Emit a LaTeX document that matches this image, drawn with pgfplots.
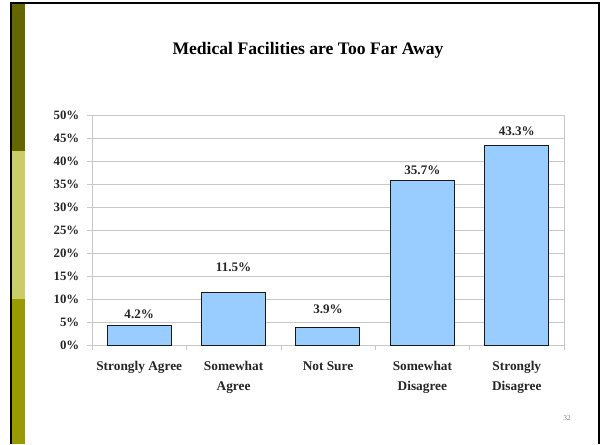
\documentclass[border=0pt]{standalone}
\usepackage{pgfplots}
\pgfplotsset{compat=1.18}
\usepackage{pgfplotstable}
\usepackage{fontspec}
\setmainfont{Liberation Serif}
\definecolor{oliveA}{HTML}{666600}
\definecolor{oliveB}{HTML}{CCCC66}
\definecolor{oliveC}{HTML}{999900}
\definecolor{barblue}{HTML}{99CCFF}
\definecolor{gridgray}{HTML}{C8C8C8}
\pgfplotstableread{
x y off
0 4.2 8.25
1 11.5 18.75
2 3.9 13.5
3 35.7 8.25
4 43.3 11.25
}\datatable
\begin{document}
\begin{tikzpicture}[x=0.75pt,y=0.75pt]
\useasboundingbox (0,0) rectangle (600,444);
\fill[white] (0,0) rectangle (600,444);
% slide frame (y measured from bottom: 444 - pixel row)
\fill[oliveA] (12,440) rectangle (25,293);
\fill[oliveB] (12,293) rectangle (25,145);
\fill[oliveC] (12,145) rectangle (25,0);
\draw[black,line width=1.5pt] (11,0) -- (11,440.5) -- (599,440.5) -- (599,0);
% title
\node[font=\bfseries\fontsize{13.2}{15}\selectfont] at (308,394) {Medical Facilities are Too Far Away};
% page number
\node[font=\fontsize{5.5}{6}\selectfont,text=gray] at (567,26) {32};
\begin{axis}[
  at={(92pt*0.75,99pt*0.75)}, anchor=south west,
  scale only axis,
  width=354pt, height=172.5pt,
  xmin=-0.5, xmax=4.5, ymin=0, ymax=50,
  axis line style={gridgray},
  ytick={0,5,...,50},
  yticklabel={\pgfmathprintnumber{\tick}\%},
  ytick pos=left, xtick pos=lower,
  tick align=outside,
  ymajorgrids, grid style={gridgray},
  major tick style={gridgray},
  minor tick style={gridgray},
  major tick length=4pt, minor tick length=4pt,
  xtick={0,1,2,3,4},
  major x tick style={draw=none},
  minor xtick={-0.5,0.5,1.5,2.5,3.5,4.5},
  xticklabels={Strongly Agree,Somewhat\\Agree,Not Sure,Somewhat\\Disagree,Strongly\\Disagree},
  xticklabel style={align=center, anchor=north, yshift=-5pt, font=\bfseries\fontsize{10}{14.5}\selectfont, text=black!85},
  yticklabel style={font=\bfseries\fontsize{9.6}{11}\selectfont, xshift=-2pt, text=black!85},
  /pgf/number format/assume math mode=true,
  ybar, bar width=48pt,
  nodes near coords={\pgfmathprintnumber[fixed,precision=1,fixed zerofill]{\pgfplotspointmeta}\%},
  visualization depends on={\thisrow{off} \as \off},
  every node near coord/.append style={anchor=center, yshift=\off pt, font=\bfseries\fontsize{9.8}{11}\selectfont, text=black!85},
]
\addplot[fill=barblue, draw=black!90, line width=0.75pt] table[x=x,y=y] {\datatable};
\end{axis}
\end{tikzpicture}
\end{document}
